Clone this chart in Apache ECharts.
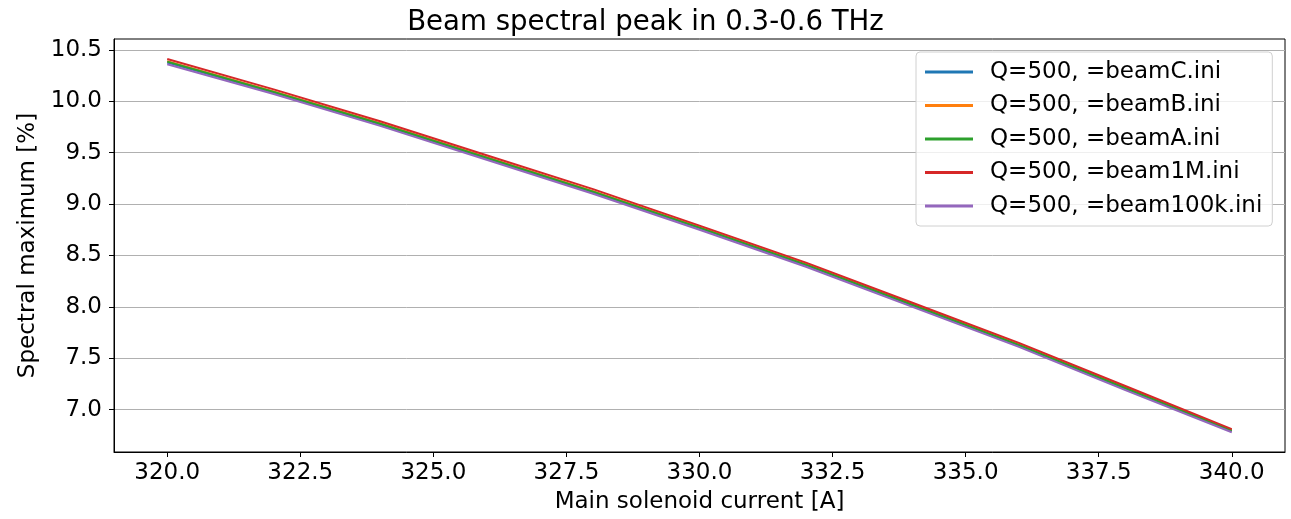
<!DOCTYPE html>
<html>
<head>
<meta charset="utf-8">
<script src="https://cdn.jsdelivr.net/npm/echarts@6/dist/echarts.min.js"></script>
<style>
  html, body { margin: 0; padding: 0; background: #fff; overflow: hidden; }
  #chart { width: 1291px; height: 519px; }
</style>
</head>
<body>
<div id="chart"></div>
<script>
// Main solenoid current [A]
const current = [320, 322, 324, 326, 328, 330, 332, 334, 336, 338, 340];

// Spectral maximum [%] for each beam file
const beamC    = [10.375, 10.085, 9.775, 9.445, 9.115, 8.765, 8.405, 8.015, 7.625, 7.205, 6.790];
const beamB    = [10.390, 10.095, 9.785, 9.455, 9.125, 8.775, 8.415, 8.025, 7.635, 7.215, 6.800];
const beamA    = [10.385, 10.090, 9.780, 9.450, 9.120, 8.770, 8.410, 8.020, 7.630, 7.210, 6.795];
const beam1M   = [10.410, 10.115, 9.805, 9.475, 9.145, 8.790, 8.430, 8.040, 7.650, 7.230, 6.810];
const beam100k = [10.360, 10.070, 9.760, 9.430, 9.100, 8.750, 8.390, 8.000, 7.610, 7.190, 6.780];

const seriesNames = [
  'Q=500, =beamC.ini',
  'Q=500, =beamB.ini',
  'Q=500, =beamA.ini',
  'Q=500, =beam1M.ini',
  'Q=500, =beam100k.ini'
];
const seriesValues = [beamC, beamB, beamA, beam1M, beam100k];
const colors = ['#1f77b4', '#ff7f0e', '#2ca02c', '#d62728', '#9467bd'];

// Tick positions
const xTicks = [320, 322.5, 325, 327.5, 330, 332.5, 335, 337.5, 340];
const yTicks = [7.0, 7.5, 8.0, 8.5, 9.0, 9.5, 10.0, 10.5];

const FONT = 'DejaVu Sans';
const FS = 23;
const chart = echarts.init(document.getElementById('chart'), null, {
  renderer: 'canvas', width: 1291, height: 519
});

const option = {
  animation: false,
  backgroundColor: '#fff',
  color: colors,
  title: {
    text: 'Beam spectral peak in 0.3-0.6 THz',
    left: 'center',
    top: 4,
    textStyle: { fontFamily: FONT, fontSize: 27.6, fontWeight: 'normal', color: '#000' }
  },
  grid: {
    left: 114, right: 6, top: 39, bottom: 61,
    show: true, borderColor: '#000', borderWidth: 1, backgroundColor: 'transparent'
  },
  legend: {
    orient: 'vertical',
    left: 916,
    top: 52,
    padding: [8, 10, 8, 9],
    itemGap: 9.5,
    itemWidth: 48,
    itemHeight: 3,
    icon: 'rect',
    backgroundColor: 'rgba(255,255,255,0.8)',
    borderColor: '#d0d0d0',
    borderWidth: 1,
    borderRadius: 4,
    data: seriesNames,
    textStyle: {
      fontFamily: FONT, fontSize: FS, color: '#000',
      lineHeight: 24, padding: [0, 0, 0, 12]
    }
  },
  xAxis: {
    type: 'value',
    min: 319,
    max: 341,
    name: 'Main solenoid current [A]',
    nameLocation: 'middle',
    nameGap: 39,
    nameTextStyle: { fontFamily: FONT, fontSize: FS, color: '#000' },
    axisLine: { show: true, onZero: false, lineStyle: { color: '#000', width: 1 } },
    axisTick: { show: true, length: 5, lineStyle: { color: '#000' }, customValues: xTicks },
    axisLabel: {
      customValues: xTicks,
      fontFamily: FONT, fontSize: FS, color: '#000', margin: 10,
      formatter: v => Number(v).toFixed(1)
    },
    splitLine: { show: false }
  },
  yAxis: {
    type: 'value',
    min: 6.588,
    max: 10.605,
    name: 'Spectral maximum [%]',
    nameLocation: 'middle',
    nameGap: 71,
    nameRotate: 90,
    nameTextStyle: { fontFamily: FONT, fontSize: FS, color: '#000' },
    axisLine: { show: true, lineStyle: { color: '#000', width: 1 } },
    axisTick: { show: true, length: 5, lineStyle: { color: '#000' }, customValues: yTicks },
    axisLabel: {
      customValues: yTicks,
      fontFamily: FONT, fontSize: FS, color: '#000', margin: 12,
      formatter: v => Number(v).toFixed(1)
    },
    splitLine: { show: true, lineStyle: { color: '#b0b0b0', width: 1 } }
  },
  series: seriesNames.map((name, i) => ({
    name: name,
    type: 'line',
    data: current.map((c, j) => [c, seriesValues[i][j]]),
    showSymbol: false,
    symbol: 'none',
    lineStyle: { width: 2, color: colors[i] },
    itemStyle: { color: colors[i] },
    z: 2 + i
  }))
};

chart.setOption(option);
</script>
</body>
</html>
